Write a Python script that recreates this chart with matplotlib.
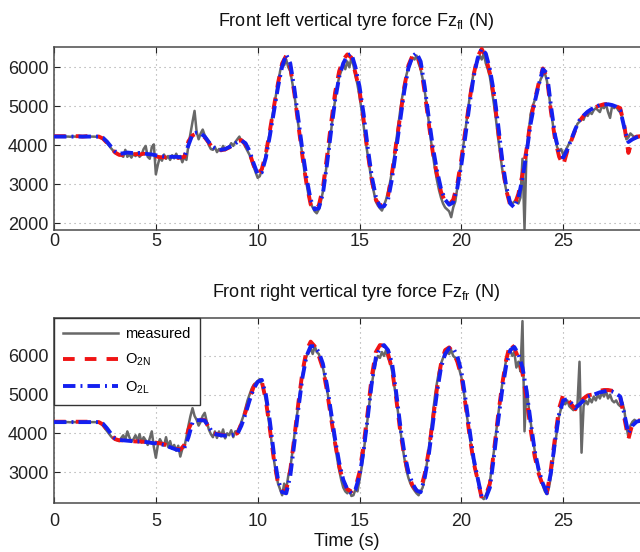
import numpy as np
import matplotlib
matplotlib.use("Agg")
import matplotlib.pyplot as plt

plt.rcParams['font.family'] = ['Liberation Sans', 'DejaVu Sans']
plt.rcParams['mathtext.fontset'] = 'custom'
plt.rcParams['mathtext.rm'] = 'Liberation Sans'

# ---------------- data ----------------
# Model outputs sampled every 0.2 s (rows = one second: k.0, k.2, k.4, k.6, k.8)
fl_o2n = [
    4230, 4230, 4230, 4230, 4220,
    4230, 4230, 4220, 4230, 4230,
    4230, 4220, 4170, 4060, 3930,
    3810, 3750, 3750, 3760, 3770,
    3770, 3760, 3780, 3760, 3730,
    3710, 3690, 3690, 3680, 3690,
    3680, 3680, 3700, 4100, 4250,
    4300, 4270, 4200, 4060, 3930,
    3880, 3870, 3890, 3940, 4000,
    4100, 4130, 4020, 3800, 3480,
    3250, 3380, 3780, 4380, 5000,
    5600, 6100, 6300, 6000, 5330,
    4500, 3700, 3000, 2480, 2330,
    2450, 2900, 3700, 4550, 5350,
    5900, 6200, 6330, 6250, 5850,
    5400, 4650, 3800, 3100, 2600,
    2440, 2480, 2700, 3300, 4050,
    4750, 5500, 6050, 6300, 6330,
    6050, 5350, 4550, 3800, 3250,
    2800, 2550, 2470, 2600, 3000,
    3650, 4400, 5150, 5800, 6280,
    6470, 6250, 5850, 5250, 4400,
    3550, 2850, 2450, 2450, 2750,
    3250, 3900, 4650, 5150, 5600,
    5970, 5750, 4850, 4150, 3700,
    3480, 3850, 4120, 4400, 4620,
    4750, 4850, 4920, 4980, 5020,
    5050, 5060, 5040, 5000, 4950,
    4500, 3800, 4150, 4220, 4230,
]
fl_o2l = [
    4220, 4220, 4220, 4220, 4220,
    4220, 4220, 4220, 4220, 4220,
    4220, 4220, 4190, 4090, 3960,
    3840, 3780, 3790, 3810, 3800,
    3790, 3800, 3790, 3770, 3760,
    3740, 3720, 3710, 3700, 3700,
    3700, 3690, 3700, 4000, 4280,
    4320, 4300, 4220, 4080, 3950,
    3890, 3880, 3900, 3950, 4000,
    4080, 4120, 4050, 3850, 3530,
    3250, 3300, 3680, 4250, 4880,
    5500, 6020, 6330, 6100, 5450,
    4650, 3850, 3150, 2600, 2350,
    2380, 2750, 3500, 4350, 5150,
    5750, 6100, 6300, 6350, 6000,
    5500, 4800, 3950, 3200, 2680,
    2420, 2430, 2600, 3150, 3900,
    4650, 5400, 5980, 6280, 6370,
    6150, 5500, 4700, 3950, 3350,
    2880, 2600, 2470, 2530, 2900,
    3500, 4250, 5050, 5750, 6230,
    6480, 6350, 5950, 5350, 4550,
    3650, 2950, 2500, 2400, 2650,
    3150, 3800, 4550, 5100, 5550,
    5950, 5850, 5000, 4250, 3800,
    3680, 3880, 4150, 4420, 4640,
    4760, 4860, 4930, 4990, 5030,
    5040, 5050, 5030, 4990, 4900,
    4450, 4080, 4150, 4200, 4230,
]
# Measured signal sampled every 0.1 s (rows = one second)
fl_meas = [
    4220, 4215, 4225, 4220, 4220, 4218, 4222, 4220, 4215, 4225,
    4220, 4220, 4218, 4222, 4220, 4220, 4215, 4225, 4220, 4220,
    4218, 4215, 4210, 4190, 4160, 4110, 4050, 3990, 3920, 3860,
    3810, 3770, 3750, 3740, 3700, 3880, 3700, 3760, 3680, 3780,
    3720, 3800, 3700, 3760, 3900, 3980, 3700, 3650, 3950, 4020,
    3250, 3500, 3700, 3600, 3760, 3650, 3720, 3620, 3740, 3660,
    3780, 3650, 3720, 3560, 3700, 3620, 4000, 4300, 4600, 4880,
    4350, 4150, 4300, 4400, 4250, 4150, 4000, 3900, 3880, 3950,
    3820, 3900, 3850, 3980, 3870, 3920, 3950, 4050, 3980, 4080,
    4150, 4220, 4100, 4050, 3950, 3850, 3750, 3600, 3450, 3300,
    3160, 3200, 3350, 3500, 3750, 4050, 4350, 4700, 5000, 5300,
    5600, 5900, 6100, 6050, 6200, 6000, 5900, 5600, 5300, 4900,
    4500, 4100, 3700, 3300, 3000, 2700, 2500, 2400, 2300, 2250,
    2350, 2550, 2800, 3150, 3550, 3950, 4350, 4800, 5150, 5500,
    5750, 5900, 6100, 5950, 6150, 6000, 6250, 6050, 5800, 5550,
    5250, 4900, 4500, 4100, 3750, 3400, 3050, 2800, 2550, 2450,
    2380, 2320, 2450, 2600, 2800, 3050, 3350, 3700, 4100, 4500,
    4900, 5250, 5550, 5800, 6000, 6100, 6250, 6200, 6300, 6100,
    5950, 5700, 5400, 5000, 4600, 4150, 3750, 3400, 3100, 2850,
    2650, 2500, 2400, 2350, 2300, 2150, 2400, 2550, 2900, 3200,
    3600, 4000, 4400, 4800, 5200, 5550, 5850, 6050, 6150, 6300,
    6200, 6350, 6100, 5950, 5750, 5400, 5050, 4650, 4200, 3800,
    3400, 3100, 2850, 2650, 2550, 2500, 2550, 2600, 2500, 2650,
    3650, 1850, 3900, 4300, 4800, 5000, 5150, 5350, 5550, 5700,
    5800, 5850, 5650, 5300, 4900, 4500, 4200, 3950, 3850, 3900,
    3750, 3850, 3950, 4050, 4150, 4300, 4400, 4550, 4600, 4700,
    4650, 4800, 4750, 4850, 4800, 4900, 4950, 4900, 4850, 5000,
    4950, 5050, 4850, 4700, 5000, 4950, 5000, 4900, 4850, 4700,
    4450, 4150, 4200, 4300, 4250, 4200, 4230, 4200, 4220,
]

fr_o2n = [
    4300, 4300, 4300, 4300, 4300,
    4300, 4300, 4300, 4300, 4300,
    4300, 4290, 4230, 4100, 3960,
    3850, 3820, 3820, 3810, 3800,
    3790, 3790, 3780, 3770, 3760,
    3760, 3740, 3720, 3680, 3650,
    3600, 3580, 3700, 4100, 4330,
    4350, 4350, 4340, 4150, 4000,
    3980, 3960, 3950, 3960, 3970,
    4000, 4250, 4550, 4900, 5200,
    5370, 5350, 4850, 4100, 3300,
    2700, 2500, 2520, 3050, 3900,
    4800, 5600, 6150, 6370, 6250,
    6000, 5680, 5100, 4400, 3750,
    3150, 2750, 2550, 2500, 2600,
    3000, 3700, 4550, 5470, 6100,
    6280, 6270, 6050, 5650, 4900,
    4050, 3400, 2950, 2650, 2520,
    2550, 2950, 3550, 4350, 5150,
    5800, 6150, 6220, 6100, 5850,
    5480, 4750, 3950, 3250, 2800,
    2320, 2400, 2700, 3550, 4450,
    5250, 5900, 6330, 6200, 5950,
    5550, 4900, 4100, 3400, 2950,
    2650, 2460, 3100, 3900, 4650,
    5000, 4900, 4750, 4620, 4800,
    4900, 4980, 5000, 5050, 5100,
    5120, 5120, 5100, 5050, 4920,
    4400, 3850, 4250, 4330, 4330,
]
fr_o2l = [
    4290, 4290, 4290, 4290, 4290,
    4290, 4290, 4290, 4290, 4290,
    4290, 4290, 4250, 4130, 3990,
    3870, 3830, 3820, 3810, 3800,
    3790, 3790, 3780, 3770, 3750,
    3740, 3720, 3700, 3660, 3620,
    3580, 3560, 3620, 3900, 4280,
    4340, 4340, 4330, 4170, 4010,
    3970, 3950, 3940, 3950, 3960,
    3980, 4200, 4500, 4850, 5150,
    5330, 5380, 5000, 4300, 3450,
    2800, 2480, 2450, 2900, 3750,
    4650, 5450, 6000, 6250, 6250,
    6100, 5800, 5250, 4550, 3850,
    3250, 2800, 2550, 2450, 2550,
    2900, 3550, 4400, 5300, 5950,
    6200, 6280, 6150, 5800, 5050,
    4200, 3500, 3000, 2700, 2520,
    2480, 2850, 3450, 4250, 5050,
    5700, 6050, 6200, 6200, 6000,
    5600, 4900, 4100, 3350, 2850,
    2350, 2330, 2600, 3400, 4300,
    5100, 5750, 6150, 6230, 6050,
    5700, 5100, 4300, 3550, 3050,
    2700, 2450, 3000, 3800, 4500,
    4850, 4880, 4780, 4650, 4750,
    4850, 4950, 4980, 5020, 5060,
    5080, 5100, 5080, 5030, 4950,
    4500, 4000, 4200, 4300, 4330,
]
fr_meas = [
    4290, 4285, 4295, 4290, 4290, 4288, 4292, 4290, 4285, 4295,
    4290, 4290, 4288, 4292, 4290, 4290, 4285, 4295, 4290, 4290,
    4290, 4285, 4280, 4250, 4200, 4130, 4060, 3990, 3920, 3870,
    3840, 3820, 3800, 3880, 3950, 3830, 4050, 3900, 3780, 3850,
    3950, 3800, 3980, 3760, 3900, 3820, 3700, 3870, 4050, 3650,
    3370, 3700, 3850, 3750, 3680, 3900, 3650, 3800, 3600, 3700,
    3550, 3680, 3400, 3600, 3650, 3900, 4200, 4450, 4650, 4450,
    4350, 4200, 4300, 4450, 4530, 4300, 4100, 3980, 3900, 4050,
    3880, 4050, 3920, 4100, 3870, 4000, 3950, 4080, 3900, 4050,
    4050, 4150, 4300, 4450, 4650, 4850, 5000, 5150, 5250, 5300,
    5350, 5400, 5280, 5100, 4850, 4500, 4100, 3700, 3300, 2950,
    2700, 2550, 2400, 2700, 2550, 2900, 3100, 3500, 3950, 4350,
    4750, 5150, 5500, 5800, 6000, 6100, 6200, 6050, 6250, 6100,
    6050, 5900, 5700, 5450, 5150, 4800, 4400, 4050, 3700, 3350,
    3050, 2800, 2600, 2500, 2450, 2550, 2380, 2400, 2550, 2500,
    2800, 3100, 3500, 3950, 4400, 4850, 5250, 5600, 5850, 6000,
    5950, 6100, 6000, 6150, 5950, 5850, 5600, 5250, 4900, 4500,
    4100, 3700, 3350, 3050, 2850, 2700, 2600, 2520, 2450, 2400,
    2500, 2600, 2850, 3200, 3600, 4050, 4500, 4950, 5300, 5600,
    5800, 5950, 6000, 6100, 6050, 6150, 6000, 5950, 5850, 5650,
    5450, 5150, 4750, 4350, 3950, 3600, 3250, 3000, 2800, 2550,
    2350, 2300, 2400, 2550, 2750, 3150, 3550, 4000, 4450, 4850,
    5250, 5600, 5900, 6050, 6150, 6000, 6100, 5700, 5850, 5600,
    6900, 4050, 5200, 4700, 4300, 3900, 3550, 3250, 3000, 2800,
    2650, 2500, 2430, 2600, 2900, 3300, 3700, 4100, 4450, 4650,
    4800, 4750, 4850, 4700, 4650, 4600, 4700, 4750, 5850, 3500,
    4700, 4850, 4750, 4900, 4800, 4950, 4850, 5000, 4900, 5050,
    4950, 5100, 4900, 5000, 4850, 4800, 4850, 4750, 4700, 4800,
    4600, 4200, 3900, 4200, 4300, 4350, 4300, 4320, 4300,
]

t_model = np.arange(len(fl_o2n)) * 0.2
t_meas = np.arange(len(fl_meas)) * 0.1
x_ticks = [0, 5, 10, 15, 20, 25]
fl_yticks = [2000, 3000, 4000, 5000, 6000]
fr_yticks = [3000, 4000, 5000, 6000]

titles = ['Front left vertical tyre force Fz$_{\\mathregular{fl}}$ (N)',
          'Front right vertical tyre force Fz$_{\\mathregular{fr}}$ (N)']
labels = ['measured', 'O$_{\\mathregular{2N}}$', 'O$_{\\mathregular{2L}}$']

# ---------------- figure ----------------
fig = plt.figure(figsize=(6.4, 5.52), dpi=100)
ax1 = fig.add_axes([0.0844, 0.5833, 0.9156, 0.3315])
ax2 = fig.add_axes([0.0844, 0.0888, 0.9156, 0.3351])

c_meas = '#686868'
c_red = '#f01414'
c_blue = '#1420f0'

def draw(ax, meas, o2n, o2l, ylim, yticks, title, xpad):
    ax.plot(t_meas, meas, color=c_meas, lw=1.8, label=labels[0], zorder=2)
    ax.plot(t_model, o2n, color=c_red, lw=2.8, linestyle=(0, (3.0, 2.6)),
            label=labels[1], zorder=3)
    ax.plot(t_model, o2l, color=c_blue, lw=2.8,
            linestyle=(0, (3.2, 1.3, 0.5, 1.3)), label=labels[2], zorder=4)
    ax.set_xlim(0, 28.77)
    ax.set_ylim(*ylim)
    ax.set_xticks(x_ticks)
    ax.set_yticks(yticks)
    ax.grid(True, color='#a0a0a0', linestyle=(0, (1, 3.5)), linewidth=0.8)
    ax.tick_params(direction='in', length=4, width=0.8, top=True, right=False,
                   labelsize=13, colors='#222222')
    ax.tick_params(axis='x', pad=xpad)
    ax.tick_params(axis='y', pad=4)
    for s in ['left', 'bottom', 'top']:
        ax.spines[s].set_color('#4a4a4a')
        ax.spines[s].set_linewidth(1.1)
    ax.spines['right'].set_visible(False)
    ax.set_title(title, fontsize=13, x=0.516, pad=15, color='#111111')

draw(ax1, fl_meas, fl_o2n, fl_o2l, (1820, 6520), fl_yticks, titles[0], 2)
draw(ax2, fr_meas, fr_o2n, fr_o2l, (2200, 6980), fr_yticks, titles[1], 7)
ax2.set_xlabel('Time (s)', fontsize=13, labelpad=2.5, color='#111111')

leg = ax2.legend(loc='upper left', borderaxespad=0, fontsize=10.5,
                 handlelength=3.8, handletextpad=0.5, labelspacing=0.75,
                 borderpad=0.6, fancybox=False, framealpha=1,
                 edgecolor='#333333')
leg.get_frame().set_linewidth(1.0)

fig.savefig('out.png', dpi=100)
